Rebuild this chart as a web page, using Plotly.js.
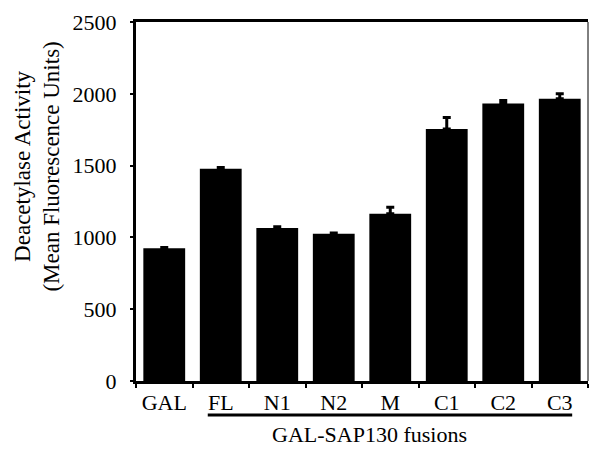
<!DOCTYPE html>
<html>
<head>
<meta charset="utf-8">
<script src="https://cdn.plot.ly/plotly-3.0.1.min.js"></script>
<style>html,body{margin:0;padding:0;background:#fff;}#chart{width:589px;height:449px;}</style>
</head>
<body>
<div id="chart"></div>
<script>
const categories = ["GAL", "FL", "N1", "N2", "M", "C1", "C2", "C3"];
const activity = [925, 1478, 1065, 1025, 1165, 1755, 1932, 1965];
const errorUp = [5, 8, 10, 5, 45, 80, 22, 35];
const yTicks = [0, 500, 1000, 1500, 2000, 2500];
const groupLabel = "GAL-SAP130 fusions";
const yTitle = "Deacetylase Activity<br>(Mean Fluorescence Units)";

const font = {family: "Liberation Serif, Times New Roman, serif", color: "#000"};

const trace = {
  type: "bar",
  x: categories,
  y: activity,
  width: 0.74,
  marker: {color: "#000", line: {width: 0}},
  error_y: {type: "data", array: errorUp, arrayminus: errorUp.map(() => 0), color: "#000", thickness: 3, width: 4, visible: true},
  hoverinfo: "skip"
};

const layout = {
  width: 589, height: 449,
  margin: {l: 136, r: 1, t: 22, b: 68},
  paper_bgcolor: "#fff", plot_bgcolor: "#fff",
  showlegend: false,
  bargap: 0.26,
  xaxis: {
    type: "category",
    range: [-0.5, 7.5],
    showline: true, linecolor: "#000", linewidth: 3, mirror: true,
    ticks: "outside", tickson: "boundaries", ticklen: 4, tickwidth: 2, tickcolor: "#000",
    showgrid: false, zeroline: false,
    tickfont: Object.assign({size: 22}, font)
  },
  yaxis: {
    range: [0, 2500],
    tickvals: yTicks,
    showline: true, linecolor: "#000", linewidth: 3,
    ticks: "outside", ticklen: 3, tickwidth: 2, tickcolor: "#000",
    ticklabelstandoff: 9,
    showgrid: false, zeroline: false,
    tickfont: Object.assign({size: 22}, font)
  },
  shapes: [
    {type: "line", xref: "paper", yref: "paper", x0: 1, x1: 1, y0: 0, y1: 1, line: {color: "#000", width: 1}},
    {type: "line", xref: "x", yref: "paper", x0: 0.77, x1: 7.22, y0: -0.095, y1: -0.095, line: {color: "#000", width: 3}}
  ],
  annotations: [
    {text: groupLabel, xref: "x", yref: "paper", x: 3.64, y: -0.186, xanchor: "center", yanchor: "bottom", borderpad: 0, showarrow: false, font: Object.assign({size: 22}, font)},
    {text: yTitle, xref: "paper", yref: "paper", x: -0.22, y: 0.596, xanchor: "center", yanchor: "middle", textangle: -90, showarrow: false, font: Object.assign({size: 23}, font)}
  ]
};

Plotly.newPlot("chart", [trace], layout, {displayModeBar: false, staticPlot: true});
</script>
</body>
</html>
